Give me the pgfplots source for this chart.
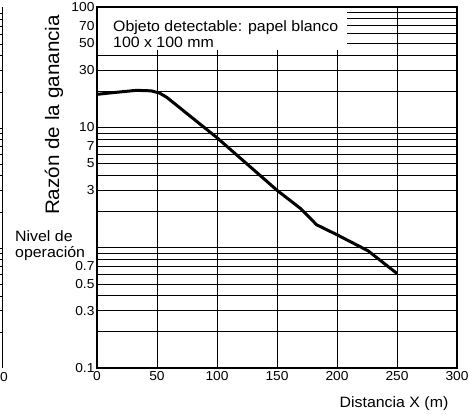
\documentclass[border=0pt]{standalone}
\usepackage{fontspec}
\setmainfont{Liberation Sans}[FakeStretch=1.06]
\usepackage{pgfplots}
\pgfplotsset{compat=1.18}
\begin{document}
\begin{tikzpicture}
\begin{axis}[
  scale only axis, width=360pt, height=361pt,
  xmin=0, xmax=300, ymode=log, ymin=0.1, ymax=100,
  xtick={0,50,100,150,200,250,300},
  ytick={0.1,0.2,0.3,0.4,0.5,0.6,0.7,0.8,0.9,1,2,3,4,5,6,7,8,9,10,20,30,40,50,60,70,80,90,100},
  yticklabels={0.1,,0.3,,0.5,,0.7,,,,,3,,5,,7,,,10,,30,,50,,70,,,100},
  xmajorgrids, ymajorgrids,
  grid style={black, line width=0.6pt},
  major tick length=0pt, minor tick length=0pt,
  axis line style={line width=1.1pt},
  tick label style={font=\fontsize{13}{14}\selectfont},
  yticklabel style={xshift=1pt},
  /pgf/number format/assume math mode=true,
  clip=false,
]
\fill[white] (axis cs:0.6,43.5) rectangle (axis cs:208,98);
\addplot[black, line width=3pt, line join=round] coordinates {
 (0,18.8) (15,19.5) (33,20.3) (45,20.1) (52,19.3) (58,17.8)
 (100,8.2) (150,3.0) (170,2.1) (183,1.55) (200,1.28) (226,0.94) (250,0.61)
};
\end{axis}
% texts
\node[anchor=base west, font=\fontsize{15}{16}\selectfont, inner sep=0pt] at (16pt,336pt) {Objeto detectable: papel blanco};
\node[anchor=base west, font=\fontsize{15}{16}\selectfont, inner sep=0pt] at (16pt,320pt) {100 x 100 mm};
\node[rotate=90, font=\fontsize{19.5}{21}\selectfont, inner sep=0pt] at (-43pt,253pt) {Razón de la ganancia};
\node[font=\fontsize{15}{16}\selectfont, inner sep=0pt] at (297pt,-36pt) {Distancia X (m)};
\node[anchor=base west, align=left, font=\fontsize{15}{16}\selectfont, inner sep=0pt] at (-82pt,110pt) {Nivel de\\operación};
% leftover edge of the neighbouring chart
\draw[line width=1pt] (-94pt,0pt) -- (-94pt,361pt);
\foreach \v in {0.2,0.3,0.4,0.5,0.6,0.7,0.8,0.9,1,2,3,4,5,6,7,8,9,10,20,30,40,50,60,70,80,90}
  {\pgfmathsetmacro{\yy}{120*(log10(\v)+1)}
   \draw[line width=0.5pt] (-97pt,\yy pt) -- (-94pt,\yy pt);}
\node[anchor=west, font=\fontsize{13}{14}\selectfont, inner sep=0pt] at (-97pt,-9pt) {0};
\pgfresetboundingbox
\path[use as bounding box] (-97pt,-46pt) rectangle (372pt,368pt);
\end{tikzpicture}
\end{document}
